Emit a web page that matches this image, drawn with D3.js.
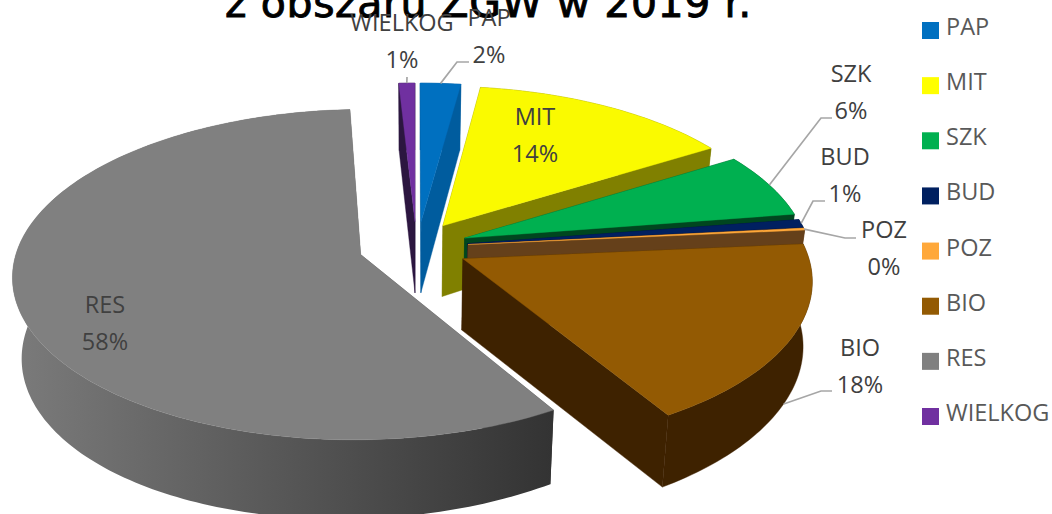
<!DOCTYPE html>
<html>
<head>
<meta charset="utf-8">
<script src="https://cdn.jsdelivr.net/npm/d3@7"></script>
<style>
  html, body { margin: 0; padding: 0; background: #fff; overflow: hidden; }
  text { font-family: "Open Sans", sans-serif; }
</style>
</head>
<body>
<div id="chart"></div>
<script>
// Data (shares in %)
const categories = ['PAP', 'MIT', 'SZK', 'BUD', 'POZ', 'BIO', 'RES', 'WIELKOG'];
const shares = [2.15, 14.0, 6.4, 0.8, 0.2, 17.8, 57.8, 0.85];
const titleText = 'z obszaru ZGW w 2019 r.';

const topColors = ['#0070c0', '#fafa00', '#00b050', '#002060', '#ffa83a', '#935a03', '#808080', '#7030a0'];
const wallColors = ['#005c9e', '#808000', '#00461f', '#001038', '#65401a', '#3e2200', 'url(#resWall)', '#2c1640'];
const legendColors = ['#0070c0', '#ffff00', '#00b050', '#002060', '#ffa83a', '#935a03', '#808080', '#7030a0'];

const width = 1052;
const height = 514;

// Label layout: centre x, baseline of first line; leader = elbow then end (empty if none)
const labelLayout = {
    PAP: { x: 489, y: 26, leader: [[457, 62], [469, 62]] },
    MIT: { x: 535, y: 125, leader: [] },
    SZK: { x: 851, y: 82, leader: [[821, 118], [832, 118]] },
    BUD: { x: 845, y: 165, leader: [[813, 201], [825, 201]] },
    POZ: { x: 884, y: 238, leader: [[845, 238], [856, 238]] },
    BIO: { x: 860, y: 356, leader: [[821, 391], [832, 391]] },
    RES: { x: 105, y: 313, leader: [] },
    WIELKOG: { x: 402, y: 31, leader: [[407, 77]] }
};
const lineGap = 37;

// Projection of the tilted disc, with a little perspective
const cx = 413.5, cy = 247;
const radius = 343;     // x radius
const tilt = 161;       // y radius
const persp = 0.12;
const explode = 0.16;
const depth = 72;
const depthSkew = 7;    // the wall is a bit taller on the left than on the right
const bottomShrink = 0.977;
const sliceNudge = { PAP: 4, WIELKOG: 3 };

function project(u, v, bottom) {
    const s = 1 / (1 - persp * v);
    const k = bottom ? bottomShrink : 1;
    return [
        cx + radius * u * s * k,
        cy + (tilt * v * k + (bottom ? depth - depthSkew * u : 0)) * s
    ];
}

const svg = d3.select('#chart').append('svg')
    .attr('width', width)
    .attr('height', height)
    .style('display', 'block');

const grad = svg.append('defs').append('linearGradient')
    .attr('id', 'resWall')
    .attr('gradientUnits', 'userSpaceOnUse')
    .attr('x1', 20).attr('x2', 552).attr('y1', 0).attr('y2', 0);
grad.append('stop').attr('offset', '0%').attr('stop-color', '#7a7a7a');
grad.append('stop').attr('offset', '100%').attr('stop-color', '#333333');

const line = d3.line();
const color = d3.scaleOrdinal().domain(categories).range(topColors);
const wallColor = d3.scaleOrdinal().domain(categories).range(wallColors);
const legendColor = d3.scaleOrdinal().domain(categories).range(legendColors);

const pie = d3.pie().sort(null).value((d, i) => shares[i]);
const slices = pie(categories).map(d => {
    const mid = (d.startAngle + d.endAngle) / 2;
    return {
        name: d.data,
        share: d.value,
        a0: d.startAngle,
        a1: d.endAngle,
        mid: mid,
        du: explode * Math.sin(mid) + (sliceNudge[d.data] || 0) / radius,
        dv: -explode * Math.cos(mid)
    };
});

// Rim point of a slice at angle a (0 = back, clockwise)
function rim(s, a, bottom) {
    return project(Math.sin(a) + s.du, -Math.cos(a) + s.dv, bottom);
}

function rimPoints(s, bottom) {
    const n = Math.max(2, Math.ceil((s.a1 - s.a0) / 0.02));
    return d3.range(n + 1).map(i => rim(s, s.a0 + (s.a1 - s.a0) * i / n, bottom));
}

function radialWall(s, a) {
    return [project(s.du, s.dv, false), rim(s, a, false), rim(s, a, true), project(s.du, s.dv, true)];
}

const pieG = svg.append('g');

// Paint from the back of the pie to the front
slices.slice().sort((a, b) => d3.ascending(-Math.cos(a.mid), -Math.cos(b.mid))).forEach(s => {
    const g = pieG.append('g');
    const wall = wallColor(s.name);
    const startFront = Math.sin(s.a0) < 0;
    const endFront = Math.sin(s.a1) > 0;
    const addPoly = (pts, fill) => g.append('path')
        .attr('d', line(pts) + 'Z')
        .attr('fill', fill)
        .attr('stroke', fill.startsWith('url') ? 'none' : fill)
        .attr('stroke-width', 0.4);

    // walls facing away first
    if (!startFront) addPoly(radialWall(s, s.a0), wall);
    if (!endFront) addPoly(radialWall(s, s.a1), wall);
    addPoly(rimPoints(s, false).concat(rimPoints(s, true).reverse()), wall);
    if (startFront) addPoly(radialWall(s, s.a0), wall);
    if (endFront) addPoly(radialWall(s, s.a1), wall);
    // top face
    addPoly([project(s.du, s.dv, false)].concat(rimPoints(s, false)), color(s.name));
});

// Leader lines
const leaderG = svg.append('g');
slices.forEach(s => {
    const layout = labelLayout[s.name];
    if (!layout.leader.length) return;
    const front = -Math.cos(s.mid) > 0;
    const start = rim(s, s.mid, front);
    leaderG.append('path')
        .attr('d', line([start].concat(layout.leader)))
        .attr('fill', 'none')
        .attr('stroke', '#a6a6a6')
        .attr('stroke-width', 1.7);
});

// Title, cut by the top of the picture as in the original
svg.append('text')
    .attr('x', 488.5)
    .attr('y', 17)
    .attr('text-anchor', 'middle')
    .attr('font-size', 41)
    .attr('letter-spacing', 0.6)
    .attr('fill', '#000')
    .attr('stroke', '#000')
    .attr('stroke-width', 0.9)
    .style('font-family', '"DejaVu Sans", sans-serif')
    .text(titleText);

// Data labels
const labelG = svg.append('g')
    .attr('font-size', 23.5)
    .attr('fill', '#404040')
    .attr('text-anchor', 'middle');
slices.forEach(s => {
    const layout = labelLayout[s.name];
    labelG.append('text').attr('x', layout.x).attr('y', layout.y).text(s.name);
    labelG.append('text').attr('x', layout.x).attr('y', layout.y + lineGap).text(Math.round(s.share) + '%');
});

// Legend
const legendY = d3.scalePoint().domain(categories).range([30.5, 416.5]);
const legend = svg.append('g').selectAll('g')
    .data(categories)
    .join('g')
    .attr('transform', d => 'translate(922,' + legendY(d) + ')');
legend.append('rect')
    .attr('y', -8.5)
    .attr('width', 17)
    .attr('height', 17)
    .attr('fill', d => legendColor(d));
legend.append('text')
    .attr('x', 24)
    .attr('y', 4.5)
    .attr('font-size', 23.5)
    .attr('fill', '#595959')
    .text(d => d);
</script>
</body>
</html>
